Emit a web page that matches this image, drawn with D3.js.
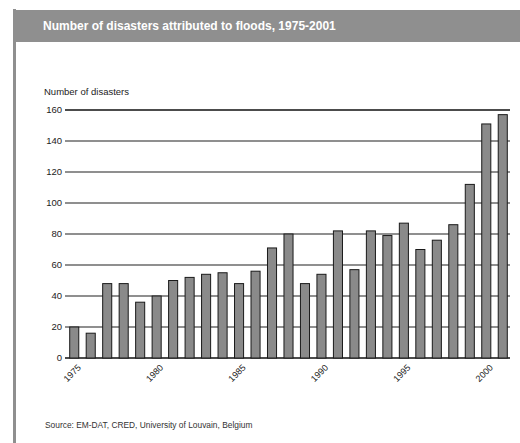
<!DOCTYPE html>
<html>
<head>
<meta charset="utf-8">
<script src="https://cdn.jsdelivr.net/npm/d3@7"></script>
<style>
  body { margin: 0; background: #fff; }
  svg { display: block; font-family: "Liberation Sans", Arial, sans-serif; }
</style>
</head>
<body>
<div id="chart-container"></div>
<script>
const years = d3.range(1975, 2002);
const floods = [20, 16, 48, 48, 36, 40, 50, 52, 54, 55, 48, 56, 71, 80,
  48, 54, 82, 57, 82, 79, 87, 70, 76, 86, 112, 151, 157];
const yTicks = [0, 20, 40, 60, 80, 100, 120, 140, 160];
const xTickYears = [1975, 1980, 1985, 1990, 1995, 2000];

const width = 520;
const height = 443;

const svg = d3.select("#chart-container")
  .append("svg")
  .attr("width", width)
  .attr("height", height);

// frame: left rule + title band
svg.append("rect")
  .attr("x", 13).attr("y", 9)
  .attr("width", 3).attr("height", height - 9)
  .attr("fill", "#8f8f8f");

svg.append("rect")
  .attr("x", 13).attr("y", 10)
  .attr("width", width - 13).attr("height", 32)
  .attr("fill", "#8f8f8f");

svg.append("text")
  .attr("x", 43).attr("y", 30)
  .attr("fill", "#fff")
  .style("font-size", "12px")
  .style("font-weight", "bold")
  .text("Number of disasters attributed to floods, 1975-2001");

const x = d3.scaleBand()
  .domain(years)
  .range([66, 511])
  .paddingInner(0.45)
  .paddingOuter(0.225);

const y = d3.scaleLinear()
  .domain([0, 160])
  .range([358, 110]);

// gridlines + y labels
const grid = svg.append("g");
grid.selectAll("line")
  .data(yTicks)
  .join("line")
  .attr("x1", 65).attr("x2", 510)
  .attr("y1", d => y(d)).attr("y2", d => y(d))
  .attr("stroke", d => (d === 160 || d === 0) ? "#111" : "#6a6a6a")
  .attr("stroke-width", 1.3);

grid.selectAll("text")
  .data(yTicks)
  .join("text")
  .attr("x", 62)
  .attr("y", d => y(d))
  .attr("dy", "0.35em")
  .attr("text-anchor", "end")
  .attr("fill", "#222")
  .style("font-size", "9.5px")
  .text(d => d);

svg.append("text")
  .attr("x", 44).attr("y", 95)
  .attr("fill", "#222")
  .style("font-size", "9.5px")
  .text("Number of disasters");

// bars
svg.append("g")
  .selectAll("rect")
  .data(years.map((yr, i) => ({ year: yr, value: floods[i] })))
  .join("rect")
  .attr("x", d => x(d.year))
  .attr("y", d => y(d.value))
  .attr("width", x.bandwidth())
  .attr("height", d => y(0) - y(d.value))
  .attr("fill", "#8a8a8a")
  .attr("stroke", "#1a1a1a")
  .attr("stroke-width", 1);

// x labels, rotated
svg.append("g")
  .selectAll("text")
  .data(xTickYears)
  .join("text")
  .attr("transform", d => `translate(${x(d) + x.bandwidth() / 2 + 5},${366}) rotate(-45)`)
  .attr("text-anchor", "end")
  .attr("dy", "0.35em")
  .attr("fill", "#222")
  .style("font-size", "9px")
  .text(d => d);

svg.append("text")
  .attr("x", 45).attr("y", 428)
  .attr("fill", "#333")
  .style("font-size", "8.4px")
  .text("Source: EM-DAT, CRED, University of Louvain, Belgium");
</script>
</body>
</html>
